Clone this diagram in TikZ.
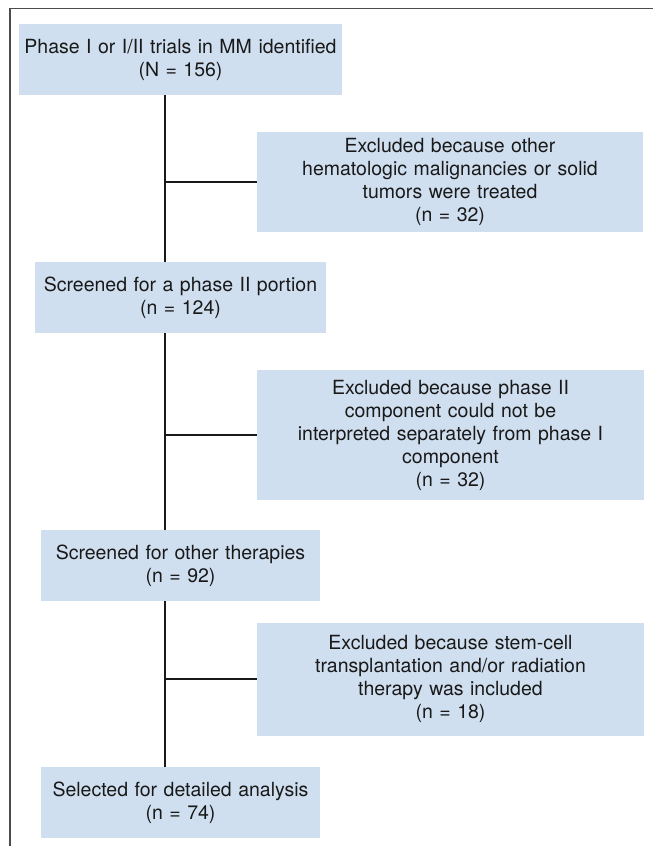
\documentclass[tikz,border=0pt]{standalone}
\usepackage{fontspec}
\setmainfont{TeX Gyre Heros}
\usepackage{tikz}
\usetikzlibrary{positioning}
\definecolor{boxblue}{RGB}{208,223,240}

\begin{document}
\begin{tikzpicture}[
    x=1bp, y=-1bp,
    every node/.style={
        font=\fontsize{19.5bp}{23bp}\selectfont,
        text=black!90
    },
    stage/.style={
        fill=boxblue,
        align=center,
        inner sep=0pt
    },
    link/.style={
        line width=2.2bp,
        black!90
    }
]

\useasboundingbox (0,0) rectangle (653,846);

% Marc
\draw[
    line width=1.3bp,
    black!70
] (10,846) -- (10,8.5) -- (653,8.5);

% Caixes principals
\node[stage, text width=323bp, minimum height=71bp] (ident) at (180.5,59.5)
    {Phase I or I/II trials in MM identified\\(N = 156)};

\node[stage, text width=291bp, minimum height=71bp] (portion) at (180.5,297.5)
    {Screened for a phase II portion\\(n = 124)};

\node[stage, text width=279bp, minimum height=71bp] (therapy) at (180.5,565.5)
    {Screened for other therapies\\(n = 92)};

\node[stage, text width=279bp, minimum height=71bp] (selected) at (180.5,802.5)
    {Selected for detailed analysis\\(n = 74)};

% Caixes d'exclusio
\node[stage, text width=386bp, minimum height=100bp] (exclA) at (450,182)
    {Excluded because other\\hematologic malignancies or solid\\tumors were treated\\(n = 32)};

\node[stage, text width=387bp, minimum height=130bp] (exclB) at (450.5,435)
    {Excluded because phase II\\component could not be\\interpreted separately from phase I\\component\\(n = 32)};

\node[stage, text width=387bp, minimum height=113bp] (exclC) at (450.5,679)
    {Excluded because stem-cell\\transplantation and/or radiation\\therapy was included\\(n = 18)};

% Linia vertical
\coordinate (spine) at (165,0);

\draw[link] (ident.south -| spine) -- (portion.north -| spine);
\draw[link] (portion.south -| spine) -- (therapy.north -| spine);
\draw[link] (therapy.south -| spine) -- (selected.north -| spine);

% Branques
\draw[link] (exclA.west -| spine) -- (exclA.west);
\draw[link] (exclB.west -| spine) -- (exclB.west);
\draw[link] (exclC.west -| spine) -- (exclC.west);

\end{tikzpicture}
\end{document}
